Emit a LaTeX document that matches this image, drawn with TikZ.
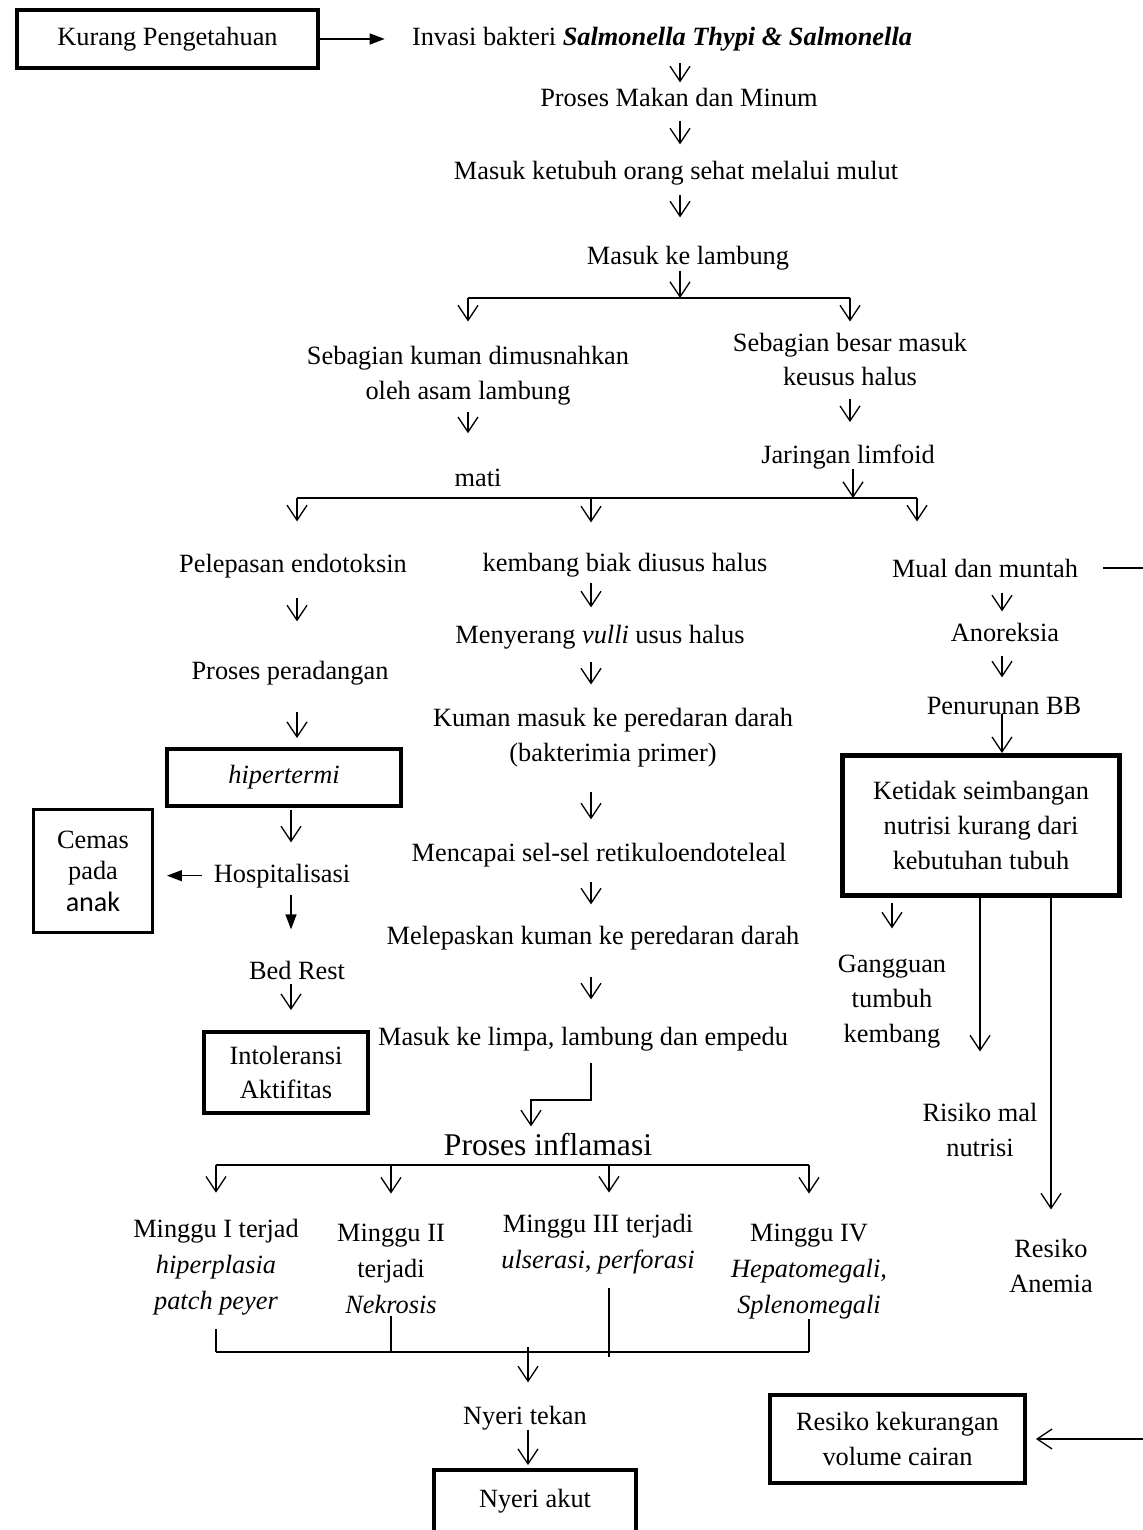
\documentclass[tikz,border=0pt]{standalone}
\usepackage{fontspec}
\setmainfont{Liberation Serif}
\newfontfamily\anakfont{Carlito}
\usetikzlibrary{arrows.meta}

\tikzset{
    txt/.style={anchor=base,align=center,inner sep=0pt},
    box/.style={draw,line width=2.2pt,align=center,inner sep=0pt},
    arr/.style={line width=0.75pt,-{Straight Barb[length=0.3cm,width=0.4cm]}},
    farr/.style={line width=0.75pt,-{Triangle[length=0.3cm,width=0.22cm]}},
    link/.style={line width=0.75pt},
    bar/.style={line width=1.1pt},
    trim/.style 2 args={shorten <=#1cm,shorten >=#2cm},
    week/.style={txt,font=\fontsize{15}{20.4}\selectfont}
}

\begin{document}
\begin{tikzpicture}[x=0.02cm,y=-0.02cm,
        every node/.style={font=\fontsize{15}{19.85}\selectfont}]
    \fill[white] (0,0) rectangle (1142,1530);
    \useasboundingbox (0,0) rectangle (1142,1530);

    % columns and branch points
    \coordinate (s1) at (680,298);
    \coordinate (s2) at (853,498);
    \coordinate (s3) at (548,1165);
    \coordinate (s4) at (528,1352);
    \coordinate (kink) at (531,1100);
    \coordinate (colL) at (297,0);
    \coordinate (colH) at (291,0);
    \coordinate (colM) at (591,0);
    \coordinate (colR) at (917,0);
    \coordinate (colN) at (1002,0);
    \coordinate (c3) at (609,0);
    \coordinate (edge) at (1170,0);

    % top (multi-line text: base = last line)
    \node[box,minimum width=6.02cm,minimum height=1.16cm] (kurang) at (167.5,39) {Kurang Pengetahuan};
    \node[txt] (invasi) at (662,46) {Invasi bakteri \textbf{\textit{Salmonella Thypi \& Salmonella}}};
    \node[txt] (makan) at (679,107) {Proses Makan dan Minum};
    \node[txt] (ketubuh) at (676,180) {Masuk ketubuh orang sehat melalui mulut};
    \node[txt] (lambung) at (688,265) {Masuk ke lambung};
    \node[txt] (musnah) at (468,399) {Sebagian kuman dimusnahkan\\oleh asam lambung};
    \node[txt] (besar) at (850,386) {Sebagian besar masuk\\keusus halus};
    \node[txt] (mati) at (478,486) {mati};
    \node[txt] (limfoid) at (848,463) {Jaringan limfoid};

    % left column
    \node[txt] (endotoksin) at (293,572) {Pelepasan endotoksin};
    \node[txt] (radang) at (290,679) {Proses peradangan};
    \node[box,minimum width=4.68cm,minimum height=1.14cm] (hipertermi) at (284,777.5) {\textit{hipertermi}};
    \node[txt] (hospital) at (282,882) {Hospitalisasi};
    \node[box,line width=1.7pt,minimum width=2.38cm,minimum height=2.46cm,font=\fontsize{15}{18}\selectfont] (cemas) at (93,871) {Cemas\\pada\\{\anakfont\fontsize{16}{18}\selectfont anak}};
    \node[txt] (bedrest) at (297,979) {Bed Rest};
    \node[box,minimum width=3.28cm,minimum height=1.62cm] (intoleransi) at (286,1072.5) {Intoleransi\\Aktifitas};

    % middle column
    \node[txt] (kembang) at (625,571) {kembang biak diusus halus};
    \node[txt] (vulli) at (600,643) {Menyerang \textit{vulli} usus halus};
    \node[txt] (bakteri) at (613,761) {Kuman masuk ke peredaran darah\\(bakterimia primer)};
    \node[txt] (retikulo) at (599,861) {Mencapai sel-sel retikuloendoteleal};
    \node[txt] (melepas) at (593,944) {Melepaskan kuman ke peredaran darah};
    \node[txt] (limpa) at (583,1045) {Masuk ke limpa, lambung dan empedu};
    \node[txt,font=\fontsize{18}{22}\selectfont] (inflamasi) at (548,1155) {Proses inflamasi};
    \node[week] (m1) at (216,1309) {Minggu I terjad\\\textit{hiperplasia}\\\textit{patch peyer}};
    \node[week] (m2) at (391,1313) {Minggu II\\terjadi\\\textit{Nekrosis}};
    \node[week] (m3) at (598,1268) {Minggu III terjadi\\\textit{ulserasi, perforasi}};
    \node[week] (m4) at (809,1313) {Minggu IV\\\textit{Hepatomegali,}\\\textit{Splenomegali}};
    \node[txt] (tekan) at (525,1424) {Nyeri tekan};
    \node[box,anchor=base,minimum width=4.04cm,text height=0.74cm,text depth=0.86cm] (akut) at (535,1507) {Nyeri akut};

    % right column
    \node[txt] (mual) at (985,577) {Mual dan muntah};
    \node[txt] (anoreksia) at (1005,641) {Anoreksia};
    \node[txt] (penurunan) at (1004,714) {Penurunan BB};
    \node[box,line width=2.8pt,minimum width=5.54cm,minimum height=2.8cm] (ketidak) at (981,825.5) {Ketidak seimbangan\\nutrisi kurang dari\\kebutuhan tubuh};
    \node[txt] (gangguan) at (892,1042) {Gangguan\\tumbuh\\kembang};
    \node[txt] (malnutrisi) at (980,1156) {Risiko mal\\nutrisi};
    \node[txt] (anemia) at (1051,1292) {Resiko\\Anemia};
    \node[box,minimum width=5.1cm,minimum height=1.76cm] (cairan) at (897.5,1439) {Resiko kekurangan\\volume cairan};

    % top chain
    \draw[farr,trim={0}{.54}] (kurang.east) -- (kurang.east -| invasi.west);
    \draw[arr,trim={.22}{.12}] (invasi.south -| s1) -- (makan.north -| s1);
    \draw[arr,trim={.26}{.34}] (makan.south -| s1) -- (ketubuh.north -| s1);
    \draw[arr,trim={.18}{.58}] (ketubuh.south -| s1) -- (lambung.north -| s1);
    \draw[arr] (lambung.south -| s1) -- (s1);
    \draw[bar] (s1 -| musnah) -- (s1 -| besar);
    \draw[arr,trim={0}{.48}] (s1 -| musnah) -- (musnah.north);
    \draw[arr,trim={0}{.22}] (s1 -| besar) -- (besar.north);
    \draw[arr,trim={.14}{.7}] (musnah.south) -- (musnah.south |- mati.north);
    \draw[arr,trim={.24}{.44}] (besar.south) -- (besar.south |- limfoid.north);
    \draw[arr] (limfoid.south -| s2) -- (s2);
    \draw[bar] (s2 -| colL) -- (s2 -| colR);
    \draw[arr,trim={0}{.64}] (s2 -| colL) -- (endotoksin.north -| colL);
    \draw[arr,trim={0}{.6}] (s2 -| colM) -- (kembang.north -| colM);
    \draw[arr,trim={0}{.74}] (s2 -| colR) -- (mual.north -| colR);

    % left chain
    \draw[arr,trim={.4}{.78}] (endotoksin.south -| colL) -- (radang.north -| colL);
    \draw[arr,trim={.54}{.18}] (radang.south -| colL) -- (hipertermi.north -| colL);
    \draw[arr,trim={.04}{.42}] (hipertermi.south -| colH) -- (hospital.north -| colH);
    \draw[farr,trim={.24}{.26}] (hospital.west) -- (hospital.west -| cemas.east);
    \draw[farr,trim={.14}{.62}] (hospital.south -| colH) -- (bedrest.north -| colH);
    \draw[arr,trim={.08}{.4}] (bedrest.south -| colH) -- (intoleransi.north -| colH);

    % middle chain
    \draw[arr,trim={.12}{.34}] (kembang.south -| colM) -- (vulli.north -| colM);
    \draw[arr,trim={.26}{.46}] (vulli.south -| colM) -- (bakteri.north -| colM);
    \draw[arr,trim={.5}{.46}] (bakteri.south -| colM) -- (retikulo.north -| colM);
    \draw[arr,trim={.3}{.42}] (retikulo.south -| colM) -- (melepas.north -| colM);
    \draw[arr,trim={.54}{.54}] (melepas.south -| colM) -- (limpa.north -| colM);
    \draw[arr,trim={.24}{.12}] (limpa.south -| colM) |- (kink) -- (inflamasi.north -| kink);
    \draw[bar] (s3 -| m1) -- (s3 -| m4);
    \foreach \m/\t in {m1/.52,m2/.6,m4/.6}
        \draw[arr,trim={0}{\t}] (s3 -| \m) -- (\m.north);
    \draw[arr,trim={0}{.42}] (s3 -| c3) -- (m3.north -| c3);
    \draw[link,shorten <=.28cm] (m1.south) -- (m1.south |- s4);
    \draw[link,shorten <=.04cm] (m2.south) -- (m2.south |- s4);
    \draw[link,shorten <=.28cm,shorten >=-.1cm] (m3.south -| c3) -- (s4 -| c3);
    \draw[link] (m4.south) -- (m4.south |- s4);
    \draw[bar] (s4 -| m1) -- (s4 -| m4);
    \draw[arr,trim={-.1}{.46}] (s4) -- (tekan.north -| s4);
    \draw[arr,trim={0}{.06}] (tekan.south -| s4) -- (akut.north -| s4);

    % right chain
    \draw[arr,trim={.3}{.22}] (mual.south -| colN) -- (anoreksia.north -| colN);
    \draw[arr,trim={.28}{.38}] (anoreksia.south -| colN) -- (penurunan.north -| colN);
    \draw[arr,trim={-.02}{0}] (penurunan.south -| colN) -- (ketidak.north -| colN);
    \draw[arr,trim={.1}{.52}] (ketidak.south -| gangguan) -- (gangguan.north);
    \draw[arr,trim={0}{1.02}] (ketidak.south -| malnutrisi) -- (malnutrisi.north);
    \draw[arr,trim={0}{.58}] (ketidak.south -| anemia) -- (anemia.north);
    \draw[arr,trim={.5}{.18}] (mual.east) -- (mual.east -| edge) |- (cairan.east);
\end{tikzpicture}
\end{document}
